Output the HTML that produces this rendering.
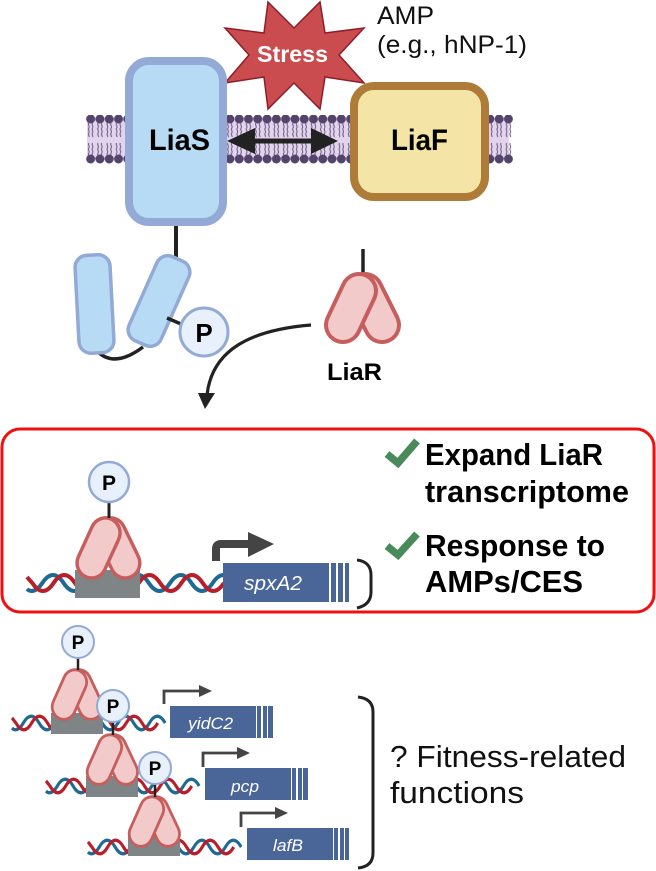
<!DOCTYPE html>
<html><head><meta charset="utf-8"><style>
html,body{margin:0;padding:0;background:#fff}
svg{display:block}
text{font-family:"Liberation Sans",sans-serif}
</style></head><body>
<svg width="656" height="871" viewBox="0 0 656 871" xmlns="http://www.w3.org/2000/svg">
<defs>
<pattern id="lip" x="86" y="115" width="9.284" height="50" patternUnits="userSpaceOnUse">
<g fill="none" stroke="#6a5a80" stroke-width="1">
<path d="M2.800 8c-1.500 2 1.500 3 0 5s1.500 3 0 5s1.500 3 0 4"/><path d="M6.500 8c-1.500 2 1.500 3 0 5s1.500 3 0 5s1.500 3 0 4"/>
<path d="M2.800 28c-1.500 2 1.500 3 0 5s1.500 3 0 5s1.500 3 0 4"/><path d="M6.500 28c-1.500 2 1.500 3 0 5s1.500 3 0 5s1.500 3 0 4"/>
</g>
<circle cx="4.650" cy="4" r="4.500" fill="#54436b"/><circle cx="4.650" cy="44" r="4.500" fill="#54436b"/>
</pattern>
<g id="dimer" stroke-linecap="round" fill="none">
<path d="M20 52L3 18" stroke="#c75e5e" stroke-width="38"/>
<path d="M20 52L3 18" stroke="#f3caca" stroke-width="30"/>
<path d="M-19 52L-3 18" stroke="#c75e5e" stroke-width="38"/>
<path d="M-19 52L-3 18" stroke="#f3caca" stroke-width="30"/>
</g>
<g id="dna" fill="none" stroke-width="4">
<path stroke="#1f6a94" d="M0 6Q2 8 4.600 8Q10 8 15.300 0q10.700 -16 21.300 0t21.300 0t21.300 0t21.300 0t21.300 0t21.300 0t21.300 0t21.300 0t21.300 0"/>
<path stroke="#b81f2a" d="M0 -6Q2.500 -3 5.300 0q10.700 16 21.300 0t21.300 0t21.300 0t21.300 0t21.300 0t21.300 0t21.300 0t21.300 0t21.300 0"/>
</g>
</defs>

<!-- membrane -->
<rect x="87" y="119" width="422" height="40" fill="#e3d4ee"/>
<rect x="86" y="115" width="427" height="50" fill="url(#lip)"/>

<!-- stress star -->
<polygon points="268,2 294,28 320,2 325,33 364,28 339,55 364,83 325,77 320,109 294,83 268,109 264,77 225,83 249,55 225,28 264,33" fill="#cb4c4e" stroke="#8e1d2a" stroke-width="1.500" stroke-linejoin="miter"/>
<text x="257" y="62" font-size="23" font-weight="700" fill="#fff" textLength="71" lengthAdjust="spacingAndGlyphs">Stress</text>
<text x="377" y="24" font-size="25" fill="#111" textLength="57" lengthAdjust="spacingAndGlyphs">AMP</text>
<text x="377" y="53" font-size="25" fill="#111" textLength="150" lengthAdjust="spacingAndGlyphs">(e.g., hNP-1)</text>

<!-- LiaS / LiaF -->
<line x1="176" y1="222" x2="176" y2="257" stroke="#222" stroke-width="4"/>
<rect x="129" y="61" width="94" height="161" rx="20" fill="#b7daf5" stroke="#93a9d6" stroke-width="8"/>
<text x="149" y="150" font-size="30" font-weight="700" fill="#000" textLength="61" lengthAdjust="spacingAndGlyphs">LiaS</text>
<rect x="354" y="86" width="131" height="111" rx="20" fill="#f4e4a6" stroke="#ae7c38" stroke-width="8"/>
<text x="391" y="150" font-size="30" font-weight="700" fill="#000" textLength="57" lengthAdjust="spacingAndGlyphs">LiaF</text>
<!-- double arrow -->
<path d="M227 141L255 128V138.500H311V128L338 141L311 154V143.500H255V154Z" fill="#222"/>

<!-- rods -->
<path d="M98 352Q115 368 143 347" fill="none" stroke="#222" stroke-width="3.500"/>
<rect x="77" y="255" width="35" height="98" rx="12" transform="rotate(-3 94 304)" fill="#b7daf5" stroke="#93a9d6" stroke-width="3.500"/>
<rect x="141.500" y="255" width="35" height="92" rx="12" transform="rotate(24 159 301)" fill="#b7daf5" stroke="#93a9d6" stroke-width="3.500"/>
<line x1="167" y1="318" x2="181" y2="324" stroke="#222" stroke-width="3.500"/>
<circle cx="204" cy="332" r="24" fill="#e8f1fb" stroke="#93a9d6" stroke-width="3"/>
<text x="204" y="342" font-size="26" font-weight="700" text-anchor="middle" fill="#000">P</text>

<!-- LiaR -->
<line x1="363" y1="249" x2="363" y2="274" stroke="#222" stroke-width="3.500"/>
<use href="#dimer" transform="translate(362 273)"/>
<text x="327" y="380" font-size="24" font-weight="700" fill="#000" textLength="55" lengthAdjust="spacingAndGlyphs">LiaR</text>
<path d="M311 325C250 330 212 350 207 395" fill="none" stroke="#222" stroke-width="3.200"/>
<polygon points="198,393 215,393 205,409" fill="#222"/>

<!-- red box -->
<rect x="2" y="429" width="652" height="183" rx="18" fill="none" stroke="#f01010" stroke-width="3"/>

<!-- main unit -->
<use href="#dna" transform="translate(27 583)"/>
<rect x="75" y="570" width="65" height="28" fill="#7f8487"/>
<use href="#dimer" transform="translate(108 517) scale(.86 .885)"/>
<line x1="109" y1="500" x2="109" y2="518" stroke="#222" stroke-width="3"/>
<circle cx="109" cy="482" r="20" fill="#e8f1fb" stroke="#93a9d6" stroke-width="2.500"/>
<text x="109" y="490" font-size="21" font-weight="700" text-anchor="middle" fill="#000">P</text>
<rect x="223" y="563" width="106" height="39" fill="#4a6699"/>
<rect x="331" y="563" width="5" height="39" fill="#4a6699"/><rect x="338" y="563" width="5" height="39" fill="#4a6699"/><rect x="345" y="563" width="4" height="39" fill="#4a6699"/>
<text x="244" y="590" font-size="20" font-style="italic" fill="#fff" textLength="58" lengthAdjust="spacingAndGlyphs">spxA2</text>
<path d="M216 561V549Q216 544 221 544H250" fill="none" stroke="#444" stroke-width="8"/>
<polygon points="248,532 274,544 248,557" fill="#444"/>
<path d="M357 560C366 561 371 566 371 575V592C371 601 366 606 357 608" fill="none" stroke="#222" stroke-width="3"/>

<!-- checks + text -->
<path d="M387 454L398 463L417 441" fill="none" stroke="#4a8a5a" stroke-width="7.500"/>
<path d="M387 546L398 555L417 534" fill="none" stroke="#4a8a5a" stroke-width="7.500"/>
<text x="425" y="465" font-size="31" font-weight="700" fill="#000" textLength="178" lengthAdjust="spacingAndGlyphs">Expand LiaR</text>
<text x="425" y="502" font-size="31" font-weight="700" fill="#000" textLength="204" lengthAdjust="spacingAndGlyphs">transcriptome</text>
<text x="425" y="556" font-size="31" font-weight="700" fill="#000" textLength="180" lengthAdjust="spacingAndGlyphs">Response to</text>
<text x="425" y="592" font-size="31" font-weight="700" fill="#000" textLength="158" lengthAdjust="spacingAndGlyphs">AMPs/CES</text>

<!-- group 1 -->
<use href="#dna" transform="translate(12 723) scale(.74 .85)"/>
<rect x="51" y="713" width="52" height="21" fill="#7f8487"/>
<use href="#dimer" transform="translate(77 669) scale(.69 .73)"/>
<line x1="78" y1="657" x2="78" y2="670" stroke="#222" stroke-width="2.500"/>
<circle cx="78" cy="642" r="16" fill="#e8f1fb" stroke="#93a9d6" stroke-width="2"/>
<text x="78" y="649" font-size="19" font-weight="700" text-anchor="middle" fill="#000">P</text>
<rect x="170" y="706" width="86" height="32" fill="#4a6699"/>
<rect x="257" y="706" width="4" height="32" fill="#4a6699"/><rect x="263" y="706" width="4" height="32" fill="#4a6699"/><rect x="268" y="706" width="5" height="32" fill="#4a6699"/>
<text x="188" y="729" font-size="17" font-style="italic" fill="#fff" textLength="45" lengthAdjust="spacingAndGlyphs">yidC2</text>
<path d="M164 704V691H201" fill="none" stroke="#444" stroke-width="2.800"/>
<polygon points="199,685 212,691 199,697" fill="#444"/>

<!-- group 2 -->
<use href="#dna" transform="translate(46 786) scale(.74 .85)"/>
<rect x="86" y="776" width="52" height="21" fill="#7f8487"/>
<use href="#dimer" transform="translate(112 734) scale(.69 .73)"/>
<line x1="113" y1="721" x2="113" y2="735" stroke="#222" stroke-width="2.500"/>
<circle cx="113" cy="706" r="16" fill="#e8f1fb" stroke="#93a9d6" stroke-width="2"/>
<text x="113" y="713" font-size="19" font-weight="700" text-anchor="middle" fill="#000">P</text>
<rect x="205" y="768" width="86" height="32" fill="#4a6699"/>
<rect x="292" y="768" width="4" height="32" fill="#4a6699"/><rect x="298" y="768" width="4" height="32" fill="#4a6699"/><rect x="303" y="768" width="5" height="32" fill="#4a6699"/>
<text x="231" y="792" font-size="17" font-style="italic" fill="#fff" textLength="28" lengthAdjust="spacingAndGlyphs">pcp</text>
<path d="M203 767V753H239" fill="none" stroke="#444" stroke-width="2.800"/>
<polygon points="237,747 250,753 237,759" fill="#444"/>

<!-- group 3 -->
<use href="#dna" transform="translate(88 847) scale(.74 .85)"/>
<rect x="128" y="836" width="52" height="20" fill="#7f8487"/>
<use href="#dimer" transform="translate(154 796) scale(.69 .73)"/>
<line x1="155" y1="783" x2="155" y2="797" stroke="#222" stroke-width="2.500"/>
<circle cx="155" cy="768" r="16" fill="#e8f1fb" stroke="#93a9d6" stroke-width="2"/>
<text x="155" y="775" font-size="19" font-weight="700" text-anchor="middle" fill="#000">P</text>
<rect x="247" y="828" width="86" height="32" fill="#4a6699"/>
<rect x="334" y="828" width="4" height="32" fill="#4a6699"/><rect x="340" y="828" width="4" height="32" fill="#4a6699"/><rect x="345" y="828" width="4" height="32" fill="#4a6699"/>
<text x="273" y="851" font-size="17" font-style="italic" fill="#fff" textLength="30" lengthAdjust="spacingAndGlyphs">lafB</text>
<path d="M241 827V813H277" fill="none" stroke="#444" stroke-width="2.800"/>
<polygon points="275,807 288,813 275,819" fill="#444"/>

<!-- big bracket -->
<path d="M358 697C368 698 373 703 373 712V853C373 862 368 867 358 868" fill="none" stroke="#222" stroke-width="3"/>
<text x="390" y="767" font-size="31" fill="#111" textLength="236" lengthAdjust="spacingAndGlyphs">? Fitness-related</text>
<text x="390" y="803" font-size="31" fill="#111" textLength="134" lengthAdjust="spacingAndGlyphs">functions</text>
</svg>
</body></html>
